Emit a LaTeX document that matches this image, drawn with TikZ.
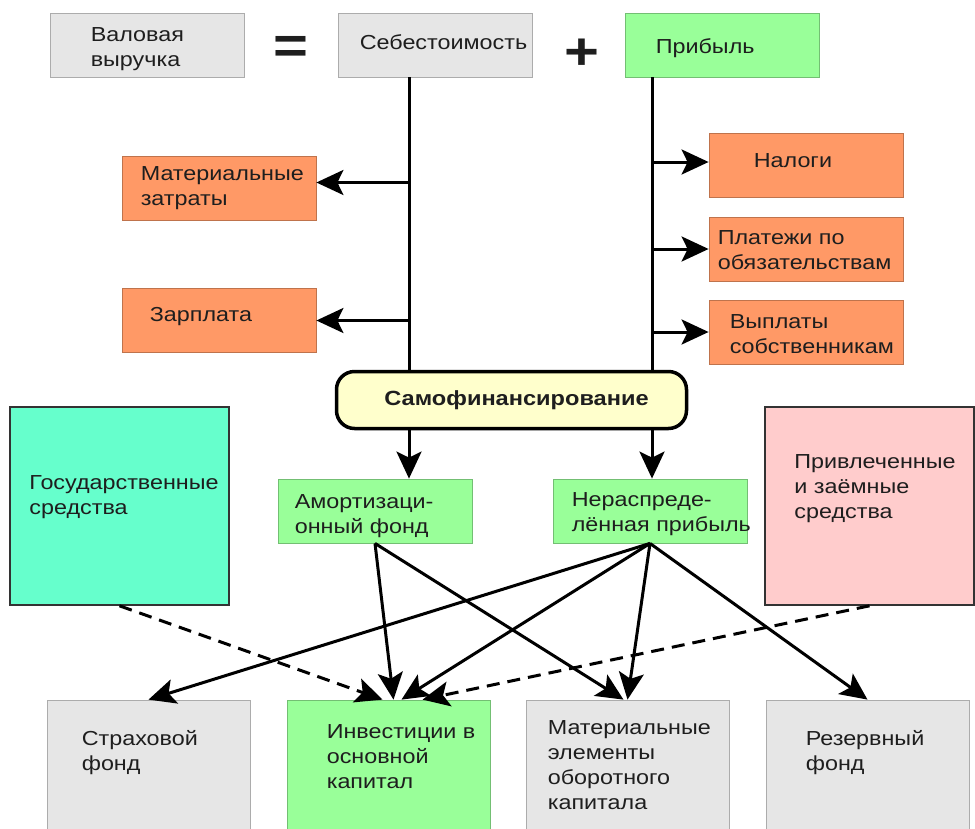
\documentclass[tikz,border=0pt]{standalone}
\usepackage{fontspec}
\setmainfont{Liberation Sans}[FakeStretch=1.15]
\usetikzlibrary{positioning,arrows.meta,calc}
\definecolor{costgray}{HTML}{E6E6E6}
\definecolor{costorange}{HTML}{FF9966}
\definecolor{profitgreen}{HTML}{99FF99}
\definecolor{govteal}{HTML}{66FFCC}
\definecolor{loanpink}{HTML}{FFCCCC}
\definecolor{selfyellow}{HTML}{FFFFCC}
\definecolor{inkgray}{HTML}{1E1E1E}
\definecolor{darkedge}{HTML}{333333}

\begin{document}
\begin{tikzpicture}[
    x=1pt, y=-1pt,
    >={Stealth[length=27pt,width=25pt,inset=6pt]},
    every node/.style={font=\fontsize{20.3}{25}\selectfont, text=inkgray},
    box/.style={
        draw=#1!75!black, fill=#1, line width=0.8pt, inner sep=0pt,
        minimum width=194pt, minimum height=64pt
    },
    bigbox/.style={
        draw=darkedge, fill=#1, line width=1.6pt, inner sep=0pt,
        minimum height=198pt
    },
    lowbox/.style={
        draw=#1!75!black, fill=#1, line width=0.8pt, inner sep=0pt,
        minimum width=203pt, minimum height=140pt
    },
    lbl/.style={align=left, inner sep=0pt},
    sign/.style={font=\fontsize{52}{52}\selectfont\bfseries, inner sep=0pt},
    selfbox/.style={
        draw=black, fill=selfyellow, rounded corners=18pt, line width=3.5pt,
        minimum width=350pt, minimum height=57pt,
        font=\fontsize{20.5}{24}\selectfont\bfseries
    },
    spine/.style={line width=3pt},
    arr/.style={->, line width=3pt},
    darr/.style={->, line width=3pt, dash pattern=on 13pt off 8pt},
]

\fill[white] (0,0) rectangle (975,828);
\useasboundingbox (0,0) rectangle (975,828);

% === Top equation ===
\node[box=costgray] (valovaya) at (147,45) {};
\node[lbl, right=41pt of valovaya.west, yshift=-4pt] (valovaya-t) {Валовая\\выручка};
\node[sign] (eq) at (291,50) {=};
\node[box=costgray] (sebest) at (435,45) {};
\node[lbl, right=22pt of sebest.west, yshift=3pt] (sebest-t) {Себестоимость};
\node[sign] (plus) at (582,54) {+};
\node[box=profitgreen] (pribyl) at (722,45) {};
\node[lbl, right=31pt of pribyl.west, yshift=-3pt] (pribyl-t) {Прибыль};

% Cost items (left)
\node[box=costorange] (mat) at (219,188.5) {};
\node[lbl, right=19pt of mat.west] (mat-t) {Материальные\\затраты};
\node[box=costorange] (zarplata) at (219,320.5) {};
\node[lbl, right=28pt of zarplata.west, yshift=3.5pt] (zarplata-t) {Зарплата};

% Profit deductions (right)
\node[box=costorange] (nalogi) at (806,165) {};
\node[lbl, right=45pt of nalogi.west, yshift=4.5pt] (nalogi-t) {Налоги};
\node[box=costorange] (platezhi) at (806,249) {};
\node[lbl, right=9pt of platezhi.west, yshift=-1.5pt] (platezhi-t) {Платежи по\\обязательствам};
\node[box=costorange] (vyplaty) at (806,332) {};
\node[lbl, right=21pt of vyplaty.west, yshift=-2.5pt] (vyplaty-t) {Выплаты\\собственникам};

% === Self-financing ===
\node[selfbox] (samofin) at (511.5,400) {\hspace*{10pt}Самофинансирование};

\node[box=profitgreen] (amort) at (375,511) {};
\node[lbl, right=17pt of amort.west, yshift=-5pt] (amort-t) {Амортизаци-\\онный фонд};
\node[box=profitgreen] (neraspr) at (650,511) {};
\node[lbl, right=19pt of neraspr.west, yshift=-3pt] (neraspr-t) {Нераспреде-\\лённая прибыль};

% Outside sources
\node[bigbox=govteal, minimum width=219pt] (gos) at (119.5,506) {};
\node[lbl, right=20pt of gos.west, yshift=9pt] (gos-t) {Государственные\\средства};
\node[bigbox=loanpink, minimum width=209pt] (privl) at (869.5,506) {};
\node[lbl, right=30pt of privl.west, yshift=17pt] (privl-t) {Привлеченные\\и заёмные\\средства};

% === Uses (bottom row) ===
\node[lowbox=costgray] (strah) at (148.5,770) {};
\node[lbl, right=35pt of strah.north west, yshift=-52.5pt] (strah-t) {Страховой\\фонд};
\node[lowbox=profitgreen] (invest) at (388.5,770) {};
\node[lbl, right=40pt of invest.north west, yshift=-57pt] (invest-t) {Инвестиции в\\основной\\капитал};
\node[lowbox=costgray] (matel) at (627.5,770) {};
\node[lbl, right=22pt of matel.north west, yshift=-66pt] (matel-t) {Материальные\\элементы\\оборотного\\капитала};
\node[lowbox=costgray] (rezerv) at (867.5,770) {};
\node[lbl, right=40pt of rezerv.north west, yshift=-53pt] (rezerv-t) {Резервный\\фонд};

% Spines
\coordinate (sebspine) at ([xshift=-26pt]sebest.south);
\coordinate (pribspine) at ([xshift=-70pt]pribyl.south);
\draw[spine] (sebspine) -- (sebspine |- samofin.north);
\draw[spine] (pribspine) -- (pribspine |- samofin.north);

\draw[arr] ([yshift=6pt]mat.east -| sebspine) -- ([yshift=6pt]mat.east);
\draw[arr] (zarplata.east -| sebspine) -- (zarplata.east);
\draw[arr] ([yshift=3pt]nalogi.west -| pribspine) -- ([yshift=3pt]nalogi.west);
\draw[arr] (platezhi.west -| pribspine) -- (platezhi.west);
\draw[arr] (vyplaty.west -| pribspine) -- (vyplaty.west);

\draw[arr] (samofin.south -| sebspine) -- (amort.north -| sebspine);
\draw[arr] (samofin.south -| pribspine) -- (neraspr.north -| pribspine);

% Distribution of funds
\draw[arr] (amort.south) -- ([xshift=5pt]invest.north);
\draw[arr] (amort.south) -- ([xshift=-4pt]matel.north);
\draw[arr] (neraspr.south) -- (strah.north);
\draw[arr] (neraspr.south) -- ([xshift=13pt]invest.north);
\draw[arr] (neraspr.south) -- (matel.north);
\draw[arr] (neraspr.south) -- (rezerv.north);
\draw[darr] (gos.south) -- ([xshift=-6pt]invest.north);
\draw[darr] (privl.south) -- ([xshift=34pt]invest.north);

\end{tikzpicture}
\end{document}
